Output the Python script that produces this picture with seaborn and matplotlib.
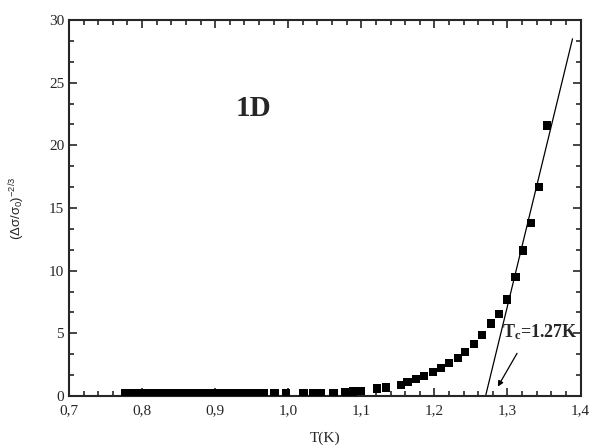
import numpy as np
import pandas as pd
import seaborn as sns
import matplotlib
matplotlib.use("Agg")
from matplotlib import pyplot as plt
from matplotlib.ticker import MultipleLocator, FuncFormatter

temp_low = [0.777, 0.786, 0.795, 0.804, 0.813, 0.822, 0.831, 0.840, 0.849,
            0.858, 0.867, 0.876, 0.885, 0.894, 0.903, 0.912, 0.921, 0.930,
            0.939, 0.948, 0.957, 0.966, 0.981, 0.997]
sig_low = [0.2, 0.2, 0.2, 0.2, 0.2, 0.2, 0.2, 0.2, 0.2,
           0.2, 0.2, 0.2, 0.2, 0.2, 0.2, 0.2, 0.2, 0.2,
           0.2, 0.2, 0.2, 0.21, 0.22, 0.22]
temp_high = [1.021, 1.034, 1.045, 1.062, 1.078, 1.089, 1.100, 1.121, 1.134,
             1.154, 1.163, 1.175, 1.186, 1.198, 1.209, 1.220, 1.232, 1.242,
             1.254, 1.265, 1.277, 1.288, 1.299, 1.311, 1.3215, 1.332, 1.343,
             1.354]
sig_high = [0.22, 0.24, 0.24, 0.26, 0.30, 0.37, 0.42, 0.61, 0.69,
            0.88, 1.10, 1.35, 1.62, 1.90, 2.25, 2.63, 3.01, 3.53,
            4.13, 4.85, 5.78, 6.53, 7.70, 9.50, 11.6, 13.83, 16.66,
            21.57]

# linear extrapolation giving Tc
fit_temp = [1.27, 1.389]
fit_sig = [0.0, 28.5]

df = pd.DataFrame({"T": temp_low + temp_high, "sig": sig_low + sig_high})
fit = pd.DataFrame({"T": fit_temp, "sig": fit_sig})

sns.set_style("ticks")
plt.rcParams["font.family"] = ["Liberation Serif", "DejaVu Serif"]
plt.rcParams["mathtext.default"] = "regular"

fig = plt.figure(figsize=(5.9, 4.48), dpi=100)
ax = fig.add_axes([0.117, 0.116, 0.867, 0.8394])

sns.scatterplot(data=df, x="T", y="sig", marker="s", s=36, color="black",
                edgecolor="none", ax=ax, zorder=3)
sns.lineplot(data=fit, x="T", y="sig", color="black", linewidth=0.9, ax=ax)

ax.set_xlim(0.7, 1.4)
ax.set_ylim(0, 30)
ax.xaxis.set_major_locator(MultipleLocator(0.1))
ax.xaxis.set_minor_locator(MultipleLocator(0.02))
ax.yaxis.set_major_locator(MultipleLocator(5))
ax.yaxis.set_minor_locator(MultipleLocator(5 / 3))
ax.xaxis.set_major_formatter(FuncFormatter(lambda v, p: ("%.1f" % v).replace(".", ",")))
ax.tick_params(which="both", direction="in", top=True, right=True,
               labelsize=11, width=1.2)
ax.tick_params(which="major", length=6)
ax.tick_params(which="minor", length=3.5)
ax.tick_params(axis="x", which="major", pad=6)
for s in ax.spines.values():
    s.set_linewidth(1.5)

ax.set_xlabel("T(K)", fontsize=11, labelpad=10)
ax.set_ylabel("(Δσ/σ$_0$)$^{-2/3}$", fontsize=9.5, labelpad=16,
              family=["Liberation Sans", "DejaVu Sans"])

ax.text(0.952, 22.9, "1D", fontsize=21, fontweight="bold", ha="center", va="center")
ax.text(1.293, 5.1, "T$_c$=1.27K", fontsize=13, fontweight="bold",
        ha="left", va="center")
ax.annotate("", xy=(1.2849, 0.56), xytext=(1.315, 3.6),
            arrowprops=dict(arrowstyle="-|>", color="black", lw=0.9,
                            mutation_scale=8))

fig.savefig("out.png", dpi=100)
plt.close()
